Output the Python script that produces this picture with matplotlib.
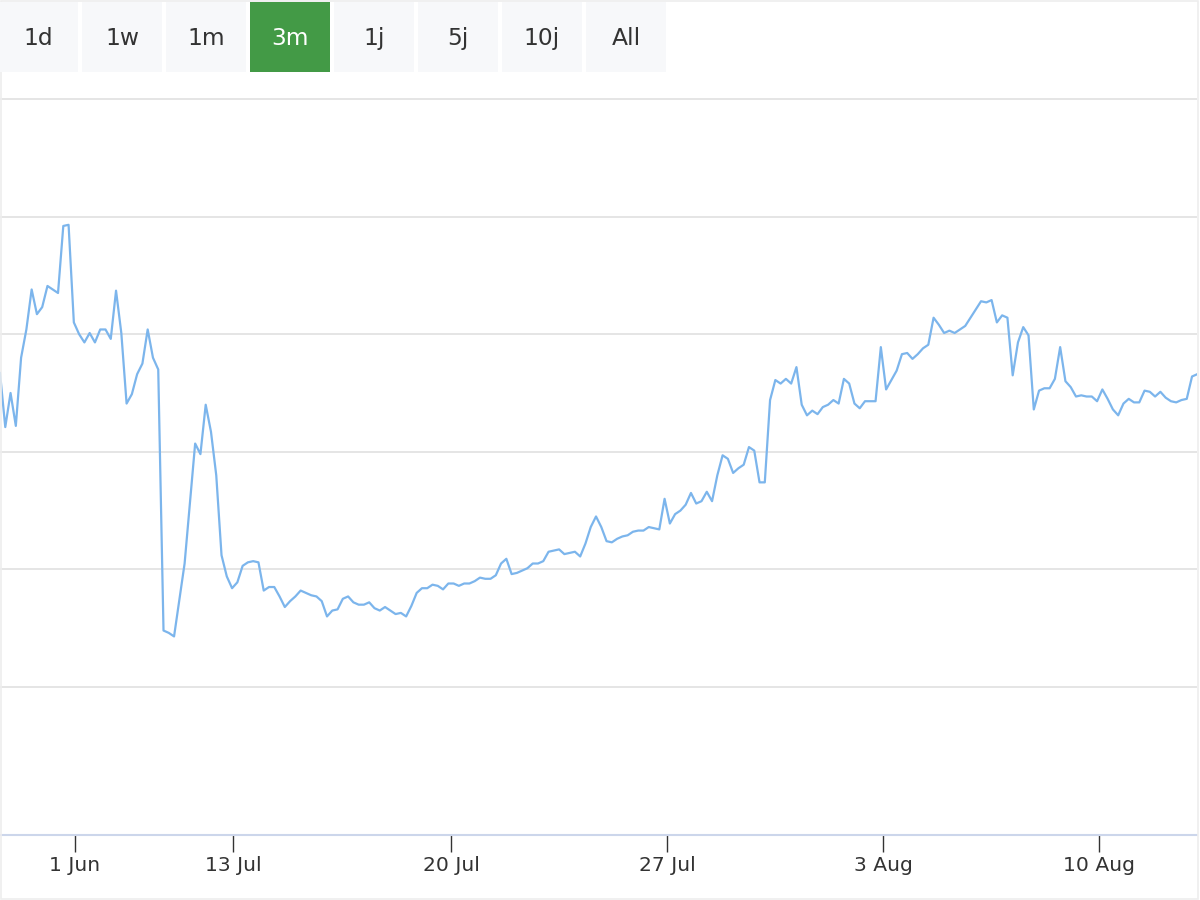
"""
3m price history with range selector buttons
"""
import numpy as np
import matplotlib.pyplot as plt
from matplotlib.patches import Rectangle
from matplotlib.transforms import blended_transform_factory

# buttons of the range selector
buttons = ['1d', '1w', '1m', '3m', '1j', '5j', '10j', 'All']
selected = '3m'

# price series (ordinal axis, one value per sample)
price = [
    36.7, 32.1, 35.0, 32.2, 38.0, 40.4, 43.8, 41.7, 42.3, 44.1,
    43.8, 43.5, 49.2, 49.3, 41.0, 40.0, 39.3, 40.1, 39.3, 40.4,
    40.4, 39.6, 43.7, 40.1, 34.1, 34.9, 36.6, 37.5, 40.4, 38.0,
    37.0, 14.8, 14.6, 14.3, 17.4, 20.5, 25.6, 30.7, 29.8, 34.0,
    31.7, 28.0, 21.2, 19.4, 18.4, 18.9, 20.3, 20.6, 20.7, 20.6,
    18.2, 18.5, 18.5, 17.7, 16.8, 17.3, 17.7, 18.2, 18.0, 17.8,
    17.7, 17.3, 16.0, 16.5, 16.6, 17.5, 17.7, 17.2, 17.0, 17.0,
    17.2, 16.7, 16.5, 16.8, 16.5, 16.2, 16.3, 16.0, 16.9, 18.0,
    18.4, 18.4, 18.7, 18.6, 18.3, 18.8, 18.8, 18.6, 18.8, 18.8,
    19.0, 19.3, 19.2, 19.2, 19.5, 20.5, 20.9, 19.6, 19.7, 19.9,
    20.1, 20.5, 20.5, 20.7, 21.5, 21.6, 21.7, 21.3, 21.4, 21.5,
    21.1, 22.2, 23.6, 24.5, 23.6, 22.4, 22.3, 22.6, 22.8, 22.9,
    23.2, 23.3, 23.3, 23.6, 23.5, 23.4, 26.0, 23.9, 24.7, 25.0,
    25.5, 26.5, 25.6, 25.8, 26.6, 25.8, 28.0, 29.7, 29.4, 28.2,
    28.6, 28.9, 30.4, 30.1, 27.4, 27.4, 34.4, 36.1, 35.8, 36.2,
    35.8, 37.2, 34.0, 33.1, 33.5, 33.2, 33.8, 34.0, 34.4, 34.1,
    36.2, 35.8, 34.1, 33.7, 34.3, 34.3, 34.3, 38.9, 35.3, 36.1,
    36.9, 38.3, 38.4, 37.9, 38.3, 38.8, 39.1, 41.4, 40.8, 40.1,
    40.3, 40.1, 40.4, 40.7, 41.4, 42.1, 42.8, 42.7, 42.9, 41.0,
    41.6, 41.4, 36.5, 39.3, 40.6, 39.9, 33.6, 35.2, 35.4, 35.4,
    36.2, 38.9, 36.0, 35.5, 34.7, 34.8, 34.7, 34.7, 34.3, 35.3,
    34.5, 33.6, 33.1, 34.1, 34.5, 34.2, 34.2, 35.2, 35.1, 34.7,
    35.1, 34.6, 34.3, 34.2, 34.4, 34.5, 36.4, 36.6,
]

# date ticks, placed on the sample index of the ordinal axis
tick_pos = [14.2, 44.2, 85.5, 126.5, 167.4, 208.4]
tick_labels = ['1 Jun', '13 Jul', '20 Jul', '27 Jul', '3 Aug', '10 Aug']
grid_vals = [10, 20, 30, 40, 50, 60]

W, H = 1200, 900
fig = plt.figure(figsize=(12, 9), dpi=100)
fig.patch.set_facecolor('white')

def px(x, y):
    # pixel (from top-left) -> figure fraction
    return x / W, 1 - y / H

# plot area: value 61 at px 87.2, value -2.585 at px 835
ax = fig.add_axes([0, (H - 835) / H, 1197.3 / W, (835 - 87.2) / H])
ax.set_facecolor('white')
x = np.arange(len(price))
ax.plot(x, price, color='#7cb5ec', lw=1.6, solid_joinstyle='round', zorder=3)
ax.set_xlim(0, len(price) - 1)
ax.set_ylim(-2.585, 61)

ax.set_yticks(grid_vals)
ax.yaxis.grid(True, color='#e0e0e0', lw=1.2)
ax.tick_params(axis='y', left=False, labelleft=False)
for s in ['top', 'left', 'right']:
    ax.spines[s].set_visible(False)
ax.spines['bottom'].set_color('#ccd6eb')
ax.spines['bottom'].set_linewidth(1.5)

ax.set_xticks(tick_pos)
ax.set_xticklabels([])
ax.tick_params(axis='x', length=12.2, width=1.0, color='#333333', direction='out')
trans = blended_transform_factory(ax.transData, fig.transFigure)
for p, lab in zip(tick_pos, tick_labels):
    ax.text(p, 1 - 871 / H, lab, transform=trans, ha='center', va='baseline',
            fontsize=14.6, color='#333333', family='DejaVu Sans')

# range selector
for i, b in enumerate(buttons):
    left = -2 + 84 * i
    on = b == selected
    x0, y0 = px(left, 72)
    fig.patches.append(Rectangle((x0, y0), 80 / W, 70 / H, transform=fig.transFigure,
                                 facecolor='#439a46' if on else '#f7f8fa',
                                 edgecolor='none', zorder=1))
    tx, ty = px(left + 40, 45)
    fig.text(tx, ty, b, ha='center', va='baseline', fontsize=16.8,
             color='white' if on else '#333333', family='DejaVu Sans', zorder=2)

# faint container border
fig.patches.append(Rectangle((0.0005, 0.0008), 0.998, 0.998, transform=fig.transFigure,
                             facecolor='none', edgecolor='#eeeeee', lw=1.2, zorder=0))

fig.savefig('out.png', dpi=100)
